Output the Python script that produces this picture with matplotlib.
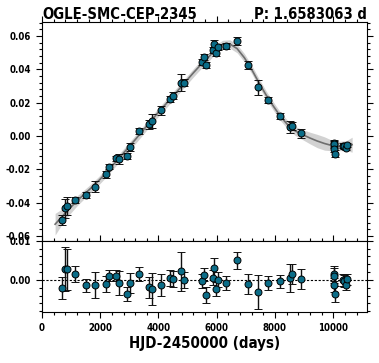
import matplotlib
matplotlib.use("Agg")
import matplotlib.pyplot as plt
from matplotlib.ticker import MultipleLocator
import numpy as np

plt.rcParams['font.family'] = ['DejaVu Sans']
plt.rcParams['font.stretch'] = 'condensed'
plt.rcParams['font.weight'] = 'bold'

# observations
hjd = [698, 790, 848, 1134, 1512, 1821, 2188, 2302, 2543, 2657, 2921, 3024,
       3345, 3677, 3768, 4089, 4399, 4490, 4777, 4891, 5488, 5567, 5636,
       5865, 5922, 5979, 6036, 6312, 6712, 7068, 7434, 7777, 8156, 8522,
       8601, 8900, 10020, 10034, 10040, 10050, 10320, 10378, 10436, 10471]
oc = [-0.0504, -0.0434, -0.0420, -0.0384, -0.0354, -0.0304, -0.0230, -0.0184,
      -0.0134, -0.0138, -0.0120, -0.0064, 0.0032, 0.0070, 0.0090, 0.0154,
      0.0222, 0.0242, 0.0320, 0.0320, 0.0443, 0.0476, 0.0426, 0.0517, 0.0553,
      0.0500, 0.0533, 0.0542, 0.0570, 0.0426, 0.0292, 0.0216, 0.0120, 0.0056,
      0.0060, 0.0016, -0.0044, -0.0050, -0.0078, -0.0106, -0.0058, -0.0062,
      -0.0070, -0.0054]
err = [0.0028, 0.0056, 0.0052, 0.0020, 0.0017, 0.0033, 0.0020, 0.0015, 0.0015,
       0.0030, 0.0018, 0.0025, 0.0017, 0.0027, 0.0040, 0.0028, 0.0020, 0.0020,
       0.0050, 0.0020, 0.0018, 0.0017, 0.0020, 0.0020, 0.0025, 0.0018, 0.0019,
       0.0019, 0.0022, 0.0025, 0.0043, 0.0017, 0.0017, 0.0036, 0.0025, 0.0025,
       0.0020, 0.0020, 0.0018, 0.0020, 0.0015, 0.0015, 0.0015, 0.0015]
resid = [-0.0021, 0.0027, 0.0027, 0.0015, -0.0014, -0.0014, -0.0010, 0.0011,
         0.0011, -0.0008, -0.0035, -0.0008, 0.0015, -0.0019, -0.0023, -0.0013,
         0.0004, 0.0003, 0.0022, 0.0000, -0.0003, 0.0013, -0.0039, 0.0006,
         0.0030, -0.0023, 0.0000, -0.0008, 0.0050, -0.0010, -0.0031, -0.0008,
         -0.0004, 0.0004, 0.0015, 0.0002, 0.0016, 0.0011, -0.0013, -0.0036,
         0.0000, -0.0002, -0.0012, 0.0001]

# model curve
model_t = [450, 700, 950, 1200, 1450, 1700, 1950, 2200, 2450, 2700, 2950, 3200,
           3450, 3700, 3950, 4200, 4450, 4700, 4950, 5200, 5450, 5700, 5950,
           6200, 6450, 6700, 6950, 7200, 7450, 7700, 7950, 8200, 8450, 8700,
           8950, 9200, 9450, 9700, 9950, 10200, 10450, 10650]
model_y = [-0.0530, -0.0482, -0.0435, -0.0390, -0.0350, -0.0310, -0.0268,
           -0.0222, -0.0172, -0.0122, -0.0072, -0.0022, 0.0030, 0.0082, 0.0133,
           0.0182, 0.0230, 0.0280, 0.0330, 0.0380, 0.0428, 0.0470, 0.0520,
           0.0550, 0.0553, 0.0525, 0.0470, 0.0400, 0.0320, 0.0245, 0.0178,
           0.0115, 0.0065, 0.0030, 0.0008, -0.0012, -0.0030, -0.0045, -0.0057,
           -0.0060, -0.0058, -0.0052]
model_sig = [0.0065, 0.0045, 0.0035, 0.0030, 0.0027, 0.0025, 0.0025, 0.0025,
             0.0025, 0.0025, 0.0025, 0.0025, 0.0025, 0.0025, 0.0025, 0.0025,
             0.0025, 0.0025, 0.0025, 0.0025, 0.0025, 0.0025, 0.0025, 0.0025,
             0.0025, 0.0025, 0.0025, 0.0025, 0.0025, 0.0025, 0.0025, 0.0025,
             0.0025, 0.0027, 0.0030, 0.0035, 0.0040, 0.0040, 0.0032, 0.0028,
             0.0030, 0.0045]

title_left = "OGLE-SMC-CEP-2345"
title_right = "P: 1.6583063 d"
xlabel = "HJD-2450000 (days)"

W, H = 379, 363
fig = plt.figure(figsize=(W / 100, H / 100), dpi=100)
L, R = 42 / W, 367 / W
ax1 = fig.add_axes([L, 1 - 240.7 / H, R - L, (240.7 - 22) / H])
ax2 = fig.add_axes([L, 1 - 312 / H, R - L, (312 - 240.7) / H], sharex=ax1)

mc = '#0b6d88'
mt = np.array(model_t); my = np.array(model_y); ms_ = np.array(model_sig)
ax1.fill_between(mt, my - ms_, my + ms_, color='#b5b5b5', alpha=0.6, lw=0, zorder=1)
ax1.plot(mt, my, color='#6e6e6e', lw=1.2, zorder=2)
ax1.errorbar(hjd, oc, yerr=err, fmt='o', ms=5.0, mfc=mc, mec='black', mew=0.7,
             ecolor='#111111', elinewidth=1.0, capsize=2.8, capthick=1.0, zorder=3)

ax2.axhline(0, color='black', ls='--', lw=0.8, dashes=(2, 1.5), zorder=1)
ax2.errorbar(hjd, resid, yerr=err, fmt='o', ms=5.0, mfc=mc, mec='black', mew=0.7,
             ecolor='#111111', elinewidth=1.0, capsize=2.8, capthick=1.0, zorder=3)

ax1.set_ylim(-0.0629, 0.0685)
ax2.set_ylim(-0.0082, 0.0100)
ax1.set_xlim(0, 11160)

for ax in (ax1, ax2):
    ax.xaxis.set_major_locator(MultipleLocator(2000))
    ax.xaxis.set_minor_locator(MultipleLocator(400))
    ax.tick_params(which='both', direction='out', top=True, right=True,
                   labelsize=6.9, width=0.8)
    ax.tick_params(which='major', length=4.5)
    ax.tick_params(which='minor', length=2.5)
    for s in ax.spines.values():
        s.set_linewidth(0.8)

ax1.yaxis.set_major_locator(MultipleLocator(0.02))
ax1.yaxis.set_minor_locator(MultipleLocator(0.004))
ax2.yaxis.set_major_locator(MultipleLocator(0.01))
ax2.yaxis.set_minor_locator(MultipleLocator(0.002))
ax1.tick_params(labelbottom=False)
ax1.yaxis.set_major_formatter(plt.FormatStrFormatter('%.2f'))
ax2.yaxis.set_major_formatter(plt.FormatStrFormatter('%.2f'))

ax1.set_title(title_left, loc='left', fontsize=10.6, fontweight='bold', pad=1.5)
ax1.set_title(title_right, loc='right', fontsize=10.6, fontweight='bold', pad=1.5)
ax2.set_xlabel(xlabel, fontsize=10.8, fontweight='bold', labelpad=2)

fig.savefig('out.png', dpi=100)
